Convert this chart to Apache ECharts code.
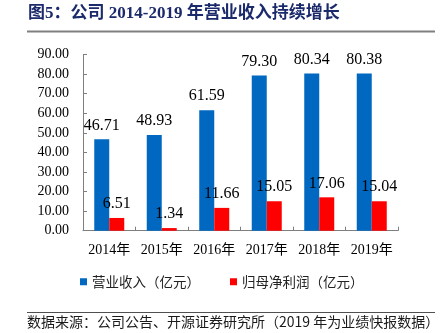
<!DOCTYPE html>
<html>
<head>
<meta charset="utf-8">
<script src="https://cdn.jsdelivr.net/npm/echarts@6/dist/echarts.min.js"></script>
<style>
  html, body { margin: 0; padding: 0; background: #ffffff; }
  #chart { width: 441px; height: 333px; }
</style>
</head>
<body>
<div id="chart"></div>
<script>
// Company revenue and net profit attributable to parent, 2014-2019 (100 million CNY)
const years = ['2014年', '2015年', '2016年', '2017年', '2018年', '2019年'];
const revenue = [46.71, 48.93, 61.59, 79.30, 80.34, 80.38];
const netProfit = [6.51, 1.34, 11.66, 15.05, 17.06, 15.04];
const seriesNames = ['营业收入（亿元）', '归母净利润（亿元）'];
const titleText = '图5：公司 2014-2019 年营业收入持续增长';
const sourceText = '数据来源：公司公告、开源证券研究所（2019 年为业绩快报数据）';

const serif = '"Liberation Serif", "Noto Sans CJK SC", serif';
const cjk = '"Noto Sans CJK SC", "Liberation Serif", sans-serif';

const chart = echarts.init(document.getElementById('chart'), null, { renderer: 'canvas' });

const valueLabel = {
  show: true,
  position: 'top',
  distance: 6,
  fontFamily: serif,
  fontSize: 16,
  color: '#000000',
  formatter: p => p.value.toFixed(2)
};

chart.setOption({
  animation: false,
  backgroundColor: '#ffffff',
  graphic: [
    {
      type: 'text', left: 28, top: 5,
      style: { text: titleText, fontFamily: serif, fontWeight: 'bold', fontSize: 17, fill: '#1b2a6b' }
    },
    {
      type: 'line', shape: { x1: 27, y1: 31.5, x2: 435, y2: 31.5 },
      style: { stroke: '#808080', lineWidth: 2 }
    },
    {
      type: 'line', shape: { x1: 27, y1: 312.5, x2: 435, y2: 312.5 },
      style: { stroke: '#505050', lineWidth: 1 }
    },
    {
      type: 'text', left: 27, top: 315,
      style: { text: sourceText, fontFamily: cjk, fontSize: 14, fill: '#1a1a1a' }
    }
  ],
  legend: {
    data: seriesNames,
    top: 275,
    left: 80,
    padding: 0,
    itemWidth: 7,
    itemHeight: 7,
    itemGap: 30,
    icon: 'rect',
    textStyle: { fontFamily: cjk, fontSize: 13.5, color: '#222222' }
  },
  grid: { left: 83, right: 43, top: 54.6, bottom: 102.3, containLabel: false },
  xAxis: {
    type: 'category',
    data: years,
    axisLine: { lineStyle: { color: '#7f7f7f', width: 1 } },
    axisTick: { show: true, inside: true, length: 4, alignWithLabel: false, lineStyle: { color: '#7f7f7f' } },
    axisLabel: { interval: 0, fontFamily: serif, fontSize: 14, color: '#000000', margin: 13 }
  },
  yAxis: {
    type: 'value',
    min: 0, max: 90, interval: 10,
    axisLine: { show: true, lineStyle: { color: '#7f7f7f', width: 1 } },
    axisTick: { show: true, inside: true, length: 4, lineStyle: { color: '#7f7f7f' } },
    splitLine: { show: false },
    axisLabel: { fontFamily: serif, fontSize: 14, color: '#000000', margin: 14, formatter: v => v.toFixed(2) }
  },
  series: [
    {
      name: seriesNames[0], type: 'bar', data: revenue,
      barWidth: 15, barGap: '0%',
      itemStyle: { color: '#0068c0' },
      label: valueLabel
    },
    {
      name: seriesNames[1], type: 'bar', data: netProfit,
      barWidth: 15, barGap: '0%',
      itemStyle: { color: '#ff0000' },
      label: valueLabel
    }
  ]
});
</script>
</body>
</html>
